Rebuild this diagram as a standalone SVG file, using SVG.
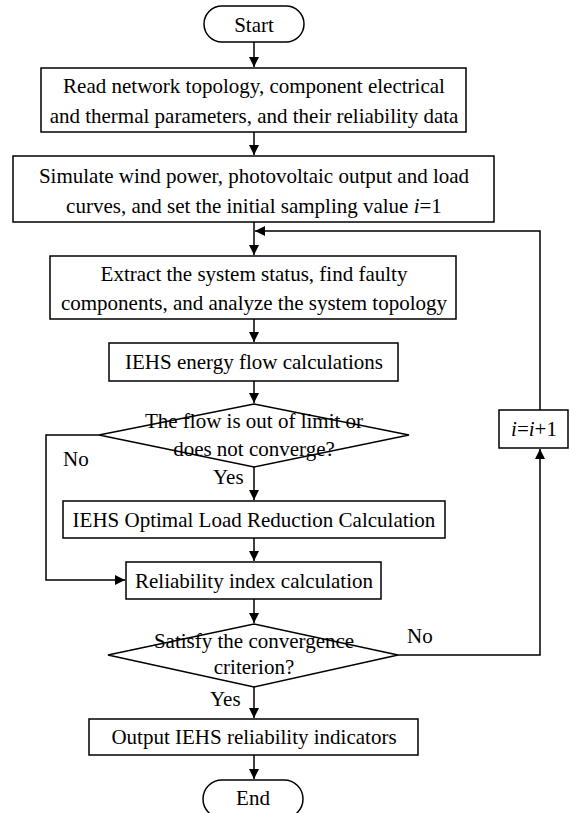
<svg xmlns="http://www.w3.org/2000/svg" width="570" height="813" viewBox="0 0 570 813">
<style>
.b{fill:#fff;stroke:#000;stroke-width:1.5}
.t{font-family:"Liberation Serif","Times New Roman",serif;font-size:21px;fill:#000;text-anchor:middle}
.l{font-family:"Liberation Serif","Times New Roman",serif;font-size:21px;fill:#000}
.c{fill:none;stroke:#000;stroke-width:1.5}
</style>
<defs>
<marker id="a" viewBox="0 0 10 10" refX="10" refY="5" markerWidth="10" markerHeight="10" markerUnits="userSpaceOnUse" orient="auto">
<path d="M0,0 L10,5 L0,10 z" fill="#000"/>
</marker>
</defs>
<g id="connectors">
<path class="c" d="M254,42 V67" marker-end="url(#a)"/>
<path class="c" d="M254,132 V155" marker-end="url(#a)"/>
<path class="c" d="M254,222 V255" marker-end="url(#a)"/>
<path class="c" d="M254,319 V342" marker-end="url(#a)"/>
<path class="c" d="M254,381 V403" marker-end="url(#a)"/>
<path class="c" d="M254,467 V500" marker-end="url(#a)"/>
<path class="c" d="M254,538 V561" marker-end="url(#a)"/>
<path class="c" d="M99,435 H46 V580 H125" marker-end="url(#a)"/>
<path class="c" d="M254,599 V623" marker-end="url(#a)"/>
<path class="c" d="M254,687 V718" marker-end="url(#a)"/>
<path class="c" d="M254,755 V779" marker-end="url(#a)"/>
<path class="c" d="M398,655 H540 V449" marker-end="url(#a)"/>
<path class="c" d="M540,410 V231 H255" marker-end="url(#a)"/>
</g>
<g id="start">
<rect class="b" x="204" y="6" width="100" height="36" rx="18" stroke="#808080"/>
<text class="t" x="254" y="32">Start</text>
</g>
<g id="read">
<rect class="b" x="41" y="68" width="425" height="64"/>
<text class="t" x="254" y="93">Read network topology, component electrical</text>
<text class="t" x="254" y="123">and thermal parameters, and their reliability data</text>
</g>
<g id="simulate">
<rect class="b" x="13" y="156" width="481" height="66"/>
<text class="t" x="254" y="183">Simulate wind power, photovoltaic output and load</text>
<text class="t" x="254" y="213">curves, and set the initial sampling value <tspan font-style="italic">i</tspan>=1</text>
</g>
<g id="extract">
<rect class="b" x="50" y="256" width="406" height="63"/>
<text class="t" x="254" y="281">Extract the system status, find faulty</text>
<text class="t" x="254" y="310">components, and analyze the system topology</text>
</g>
<g id="flow">
<rect class="b" x="109" y="343" width="289" height="38"/>
<text class="t" x="254" y="369">IEHS energy flow calculations</text>
</g>
<g id="check1">
<polygon class="b" points="254,404 409,435 254,467 99,435"/>
<text class="t" x="254" y="428">The flow is out of limit or</text>
<text class="t" x="254" y="456">does not converge?</text>
</g>
<g id="olr">
<rect class="b" x="63" y="501" width="382" height="37"/>
<text class="t" x="254" y="527">IEHS Optimal Load Reduction Calculation</text>
</g>
<g id="rel">
<rect class="b" x="126" y="562" width="255" height="37"/>
<text class="t" x="254" y="588">Reliability index calculation</text>
</g>
<g id="check2">
<polygon class="b" points="254,624 398,655 254,687 108,655"/>
<text class="t" x="254" y="648">Satisfy the convergence</text>
<text class="t" x="254" y="674">criterion?</text>
</g>
<g id="output">
<rect class="b" x="89" y="719" width="329" height="36"/>
<text class="t" x="254" y="744">Output IEHS reliability indicators</text>
</g>
<g id="end">
<rect class="b" x="203" y="780" width="100" height="38" rx="19"/>
<text class="t" x="253" y="805">End</text>
</g>
<g id="inc">
<rect class="b" x="499" y="410" width="69" height="38"/>
<text class="t" x="534" y="436"><tspan font-style="italic">i</tspan>=<tspan font-style="italic">i</tspan>+1</text>
</g>
<g id="labels">
<text class="l" x="63" y="466">No</text>
<text class="l" x="213" y="484">Yes</text>
<text class="l" x="407" y="643">No</text>
<text class="l" x="210" y="706">Yes</text>
</g>
</svg>
